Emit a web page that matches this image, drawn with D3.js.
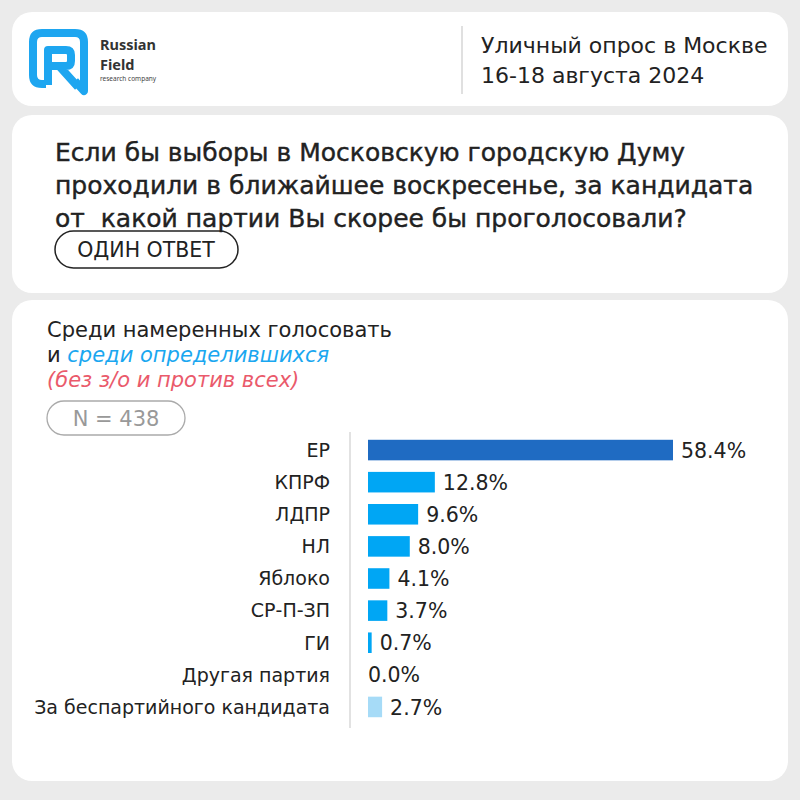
<!DOCTYPE html>
<html><head><meta charset="utf-8">
<script src="https://cdn.jsdelivr.net/npm/d3@7/dist/d3.min.js"></script>
<style>body{margin:0;background:#ebebeb;} svg{display:block;}</style>
</head><body>
<svg id="c" width="800" height="800"></svg>
<script>
const categories = ["ЕР","КПРФ","ЛДПР","НЛ","Яблоко","СР-П-ЗП","ГИ","Другая партия","За беспартийного кандидата"];
const values = [58.4,12.8,9.6,8.0,4.1,3.7,0.7,0.0,2.7];
const valueLabels = ["58.4%","12.8%","9.6%","8.0%","4.1%","3.7%","0.7%","0.0%","2.7%"];
const barColors = ["#1f6bc2","#00a6f4","#00a6f4","#00a6f4","#00a6f4","#00a6f4","#00a6f4","#00a6f4","#a6dbf7"];
const questionLines = ["Если бы выборы в Московскую городскую Думу","проходили в ближайшее воскресенье, за кандидата","от  какой партии Вы скорее бы проголосовали?"];

const F = "'DejaVu Sans', 'Noto Sans', sans-serif";
const FN = "'Noto Sans', 'Open Sans', sans-serif";
const svg = d3.select("#c");
svg.append("rect").attr("width",800).attr("height",800).attr("fill","#ebebeb");

// panels
[[12,12,776,94],[12,115,776,178],[12,300,776,481]].forEach(p=>{
  svg.append("rect").attr("x",p[0]).attr("y",p[1]).attr("width",p[2]).attr("height",p[3]).attr("rx",20).attr("fill","#fff");
});

// logo
const lg = svg.append("g").attr("transform","translate(29,29)").attr("fill","none").attr("stroke","#1ea6f0").attr("stroke-width",8).attr("stroke-linejoin","round");
lg.append("path").attr("d","M46,52 L55,62 L55,13 Q55,4 46,4 L13,4 Q4,4 4,13 L4,46 Q4,55 13,55 L17,55");
lg.append("path").attr("d","M19,56 L19,21 L37,21 Q42,21 42,26 L42,32 Q42,37 37,37 L20,37 M31,38 L49,58");
svg.append("text").attr("x",100).attr("y",50).text("Russian").attr("font-family",FN).attr("font-weight",700).attr("font-size",14.5).attr("fill","#333");
svg.append("text").attr("x",100).attr("y",70).text("Field").attr("font-family",FN).attr("font-weight",700).attr("font-size",14.5).attr("fill","#333");
svg.append("text").attr("x",100).attr("y",81).text("research company").attr("font-family",FN).attr("font-size",6.5).attr("fill","#444");

svg.append("line").attr("x1",462).attr("x2",462).attr("y1",26).attr("y2",94).attr("stroke","#ccc").attr("stroke-width",1.2);
svg.append("text").attr("x",481).attr("y",53).text("Уличный опрос в Москве").attr("font-family",F).attr("font-size",22).attr("fill","#222");
svg.append("text").attr("x",481).attr("y",83).text("16-18 августа 2024").attr("font-family",F).attr("font-size",22).attr("fill","#222");

// question
questionLines.forEach((t,i)=>{
  svg.append("text").attr("x",55).attr("y",161+i*33).text(t).attr("font-family",F).attr("font-size",25).attr("fill","#222")
    .attr("stroke","#222").attr("stroke-width",0.4).attr("xml:space","preserve");
});
svg.append("rect").attr("x",55).attr("y",231).attr("width",183).attr("height",37).attr("rx",18.5).attr("fill","none").attr("stroke","#222").attr("stroke-width",1.5);
svg.append("text").attr("x",146).attr("y",257).attr("text-anchor","middle").text("ОДИН ОТВЕТ").attr("font-family",F).attr("font-size",20.5).attr("fill","#222");

// section 3 header
svg.append("text").attr("x",47).attr("y",337).text("Среди намеренных голосовать").attr("font-family",F).attr("font-size",21).attr("fill","#222");
const t2 = svg.append("text").attr("x",47).attr("y",362).attr("font-family",F).attr("font-size",21).attr("fill","#222");
t2.append("tspan").text("и ");
t2.append("tspan").text("среди определившихся").attr("font-style","italic").attr("fill","#1aa7f0");
svg.append("text").attr("x",47).attr("y",387).text("(без з/о и против всех)").attr("font-family",F).attr("font-style","italic").attr("font-size",21).attr("fill","#ea5a6b");
svg.append("rect").attr("x",47).attr("y",401).attr("width",138).attr("height",34).attr("rx",17).attr("fill","none").attr("stroke","#aaa").attr("stroke-width",1.3);
svg.append("text").attr("x",116).attr("y",426).attr("text-anchor","middle").text("N = 438").attr("font-family",F).attr("font-size",21).attr("fill","#999");

// chart
const x = d3.scaleLinear().domain([0,58.4]).range([368,673]);
const y = d3.scaleBand().domain(categories).range([434,723]).paddingInner(0.36).paddingOuter(0.18);

svg.append("line").attr("x1",350).attr("x2",350).attr("y1",432).attr("y2",728).attr("stroke","#e2e2e2").attr("stroke-width",2);

svg.selectAll(".bar").data(categories).join("rect").attr("class","bar")
  .attr("x",x(0)).attr("y",d=>y(d)).attr("height",y.bandwidth())
  .attr("width",(d,i)=>x(values[i])-x(0)).attr("fill",(d,i)=>barColors[i]);

svg.selectAll(".lab").data(categories).join("text").attr("class","lab")
  .attr("x",330).attr("y",d=>y(d)+y.bandwidth()/2).attr("dy","0.36em").attr("text-anchor","end")
  .text(d=>d).attr("font-family",F).attr("font-size",19).attr("fill","#222");

svg.selectAll(".val").data(categories).join("text").attr("class","val")
  .attr("x",(d,i)=>x(values[i])+(values[i]>0?8:0)).attr("y",d=>y(d)+y.bandwidth()/2).attr("dy","0.37em")
  .text((d,i)=>valueLabels[i]).attr("font-family",F).attr("font-size",20.5).attr("fill","#222");
</script>
</body></html>
